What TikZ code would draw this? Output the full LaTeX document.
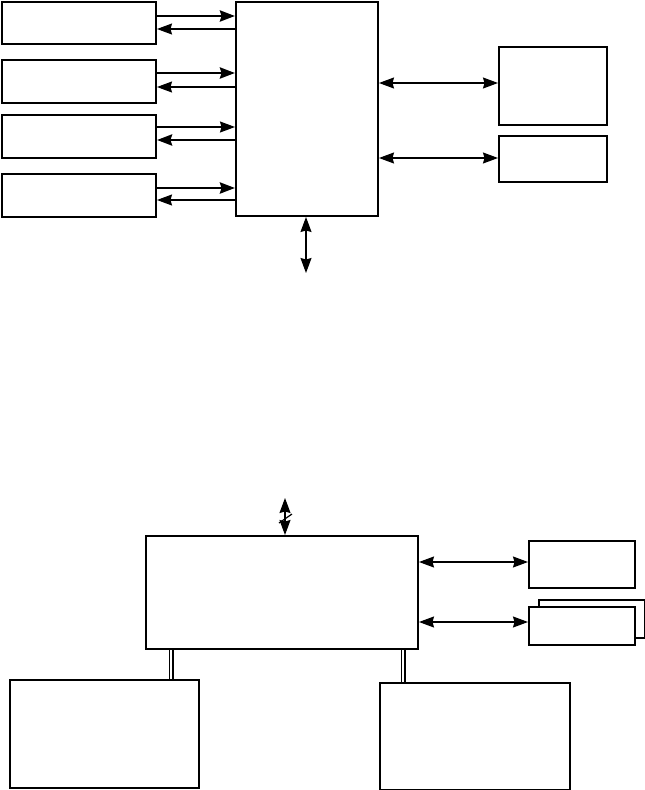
\documentclass[tikz,border=0pt]{standalone}
\usetikzlibrary{arrows.meta}
\tikzset{
  box/.style={draw,line width=2pt,rectangle,anchor=north west,inner sep=0pt,fill=white},
  headA/.tip={Stealth[length=15pt,width=11pt,inset=1.5pt]},
  arrone/.style={-headA},
  arrtwo/.style={headA-headA},
  thinline/.style={line width=1.2pt},
  thickline/.style={line width=2.8pt},
  dbl/.style={line width=1pt}}
\begin{document}
\begin{tikzpicture}[x=1pt,y=-1pt]
\useasboundingbox (0,0) rectangle (645,790);
% top section
\node[box,minimum width=154pt,minimum height=42pt] (l1) at (1,1) {};
\node[box,minimum width=154pt,minimum height=43pt] (l2) at (1,59) {};
\node[box,minimum width=154pt,minimum height=43pt] (l3) at (1,114) {};
\node[box,minimum width=154pt,minimum height=43pt] (l4) at (1,173) {};
\node[box,minimum width=142pt,minimum height=214pt] (c) at (235,1) {};
\node[box,minimum width=108pt,minimum height=78pt] (r1) at (498,46) {};
\node[box,minimum width=108pt,minimum height=46pt] (r2) at (498,135) {};
\foreach \n/\y in {a1/16,a2/29,a3/73,a4/87,a5/127,a6/140,a7/188,a8/200,a9/83,a10/158}
  \coordinate (\n) at (0,\y);
\draw[arrone,thickline] (l1.east |- a1) -- (c.west |- a1);
\draw[arrone,thinline] (c.west |- a2) -- (l1.east |- a2);
\draw[arrone,thickline] (l2.east |- a3) -- (c.west |- a3);
\draw[arrone,thinline] (c.west |- a4) -- (l2.east |- a4);
\draw[arrone,thinline] (l3.east |- a5) -- (c.west |- a5);
\draw[arrone,thickline] (c.west |- a6) -- (l3.east |- a6);
\draw[arrone,thickline] (l4.east |- a7) -- (c.west |- a7);
\draw[arrone,thinline] (c.west |- a8) -- (l4.east |- a8);
\draw[arrtwo,thinline] (c.east |- a9) -- (r1.west |- a9);
\draw[arrtwo,thinline] (c.east |- a10) -- (r2.west |- a10);
\coordinate (bend) at (306,273);
\draw[arrtwo,thinline] (c.south -| bend) -- (bend);
% bottom section
\node[box,minimum width=272pt,minimum height=113pt] (m) at (145,535) {};
\node[box,minimum width=106pt,minimum height=47pt] (s1) at (528,540) {};
\node[box,minimum width=106pt,minimum height=38pt] (s2b) at (538,599) {};
\node[box,minimum width=106pt,minimum height=38pt] (s2) at (528,606) {};
\node[box,minimum width=189pt,minimum height=108pt] (bl) at (9,679) {};
\node[box,minimum width=190pt,minimum height=107pt] (br) at (379,682) {};
\coordinate (tend) at (285,498);
\draw[arrtwo,thinline] (tend) -- (m.north -| tend);
\draw[thinline] (279,523) -- (292,514);
\coordinate (b1) at (0,562);
\coordinate (b2) at (0,622);
\draw[arrtwo,thinline] (m.east |- b1) -- (s1.west |- b1);
\draw[arrtwo,thinline] (m.east |- b2) -- (s2.west |- b2);
\coordinate (dl1) at (169,0);
\coordinate (dl2) at (173,0);
\coordinate (dr1) at (401,0);
\coordinate (dr2) at (405,0);
\draw[dbl] (m.south -| dl1) -- (bl.north -| dl1);
\draw[line width=1.8pt] (m.south -| dl2) -- (bl.north -| dl2);
\draw[dbl] (m.south -| dr1) -- (br.north -| dr1);
\draw[line width=1.8pt] (m.south -| dr2) -- (br.north -| dr2);
\end{tikzpicture}
\end{document}
